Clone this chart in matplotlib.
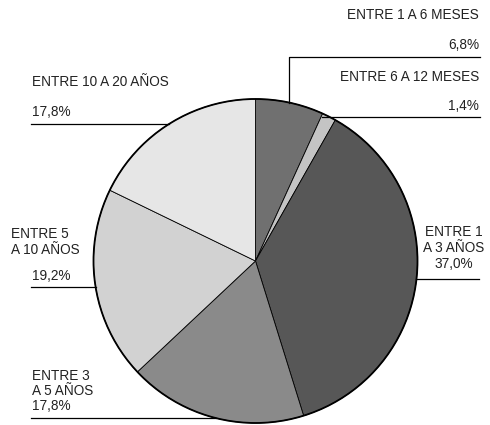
import matplotlib.pyplot as plt
import numpy as np

plt.rcParams['font.family'] = ['Liberation Sans', 'DejaVu Sans']

categorias = ["ENTRE 1 A 6 MESES", "ENTRE 6 A 12 MESES", "ENTRE 1\nA 3 AÑOS",
              "ENTRE 3\nA 5 AÑOS", "ENTRE 5\nA 10 AÑOS", "ENTRE 10 A 20 AÑOS"]
porcentajes = [6.8, 1.4, 37.0, 17.8, 19.2, 17.8]
colores = ["#707070", "#c4c4c4", "#575757", "#8a8a8a", "#d2d2d2", "#e6e6e6"]

W, H = 490, 425
cx, cy, r = 255.5, H - 261, 162

fig = plt.figure(figsize=(W / 100, H / 100), dpi=100)
ax = fig.add_axes([0, 0, 1, 1])

ax.pie(porcentajes, colors=colores, startangle=90, counterclock=False,
       center=(cx, cy), radius=r,
       wedgeprops=dict(edgecolor='black', linewidth=0.6))
ax.add_patch(plt.Circle((cx, cy), r, fill=False, edgecolor='black', lw=1.3))
ax.set_xlim(0, W)
ax.set_ylim(0, H)
ax.set_aspect('equal')
ax.axis('off')


def borde_x(y_pix, lado):
    # x del borde del círculo a una altura dada (en píxeles desde arriba)
    dy = (H - y_pix) - cy
    dx = np.sqrt(max(r * r - dy * dy, 0))
    return cx + lado * dx


def linea(x0, x1, y_pix):
    ax.plot([x0, x1], [H - y_pix, H - y_pix], color='black', lw=0.9)


def fmt(v):
    return f"{v:.1f}%".replace('.', ',')


fs = 9.8
tk = dict(fontsize=fs, color='#222222')

# ENTRE 1 A 6 MESES: línea con tramo vertical hasta el borde
xv = 289
yv = cy + np.sqrt(r * r - (xv - cx) ** 2)
ax.plot([xv, xv, 480], [yv, H - 57, H - 57], color='black', lw=0.9)
ax.text(479, H - 15, categorias[0], ha='right', va='center', **tk)
ax.text(479, H - 45, fmt(porcentajes[0]), ha='right', va='center', **tk)

# ENTRE 6 A 12 MESES
linea(borde_x(117, 1) - 8, 480, 117)
ax.text(479, H - 77, categorias[1], ha='right', va='center', **tk)
ax.text(479, H - 106, fmt(porcentajes[1]), ha='right', va='center', **tk)

# ENTRE 1 A 3 AÑOS
linea(borde_x(279, 1), 479, 279)
ax.text(454, H - 248, categorias[2] + "\n" + fmt(porcentajes[2]),
        ha='center', va='center', linespacing=1.2, **tk)

# ENTRE 3 A 5 AÑOS
linea(31, borde_x(418, -1), 418)
ax.text(32, H - 391, categorias[3] + "\n" + fmt(porcentajes[3]),
        ha='left', va='center', linespacing=1.1, **tk)

# ENTRE 5 A 10 AÑOS
linea(31, borde_x(287, -1), 287)
ax.text(11, H - 242, categorias[4], ha='left', va='center', linespacing=1.15, **tk)
ax.text(32, H - 276, fmt(porcentajes[4]), ha='left', va='center', **tk)

# ENTRE 10 A 20 AÑOS
linea(31, borde_x(124, -1), 124)
ax.text(32, H - 82, categorias[5], ha='left', va='center', **tk)
ax.text(32, H - 112, fmt(porcentajes[5]), ha='left', va='center', **tk)

fig.savefig("out.png", dpi=100)
